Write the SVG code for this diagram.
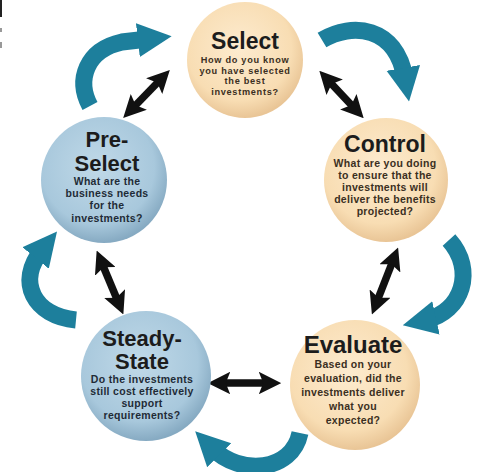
<svg xmlns="http://www.w3.org/2000/svg" width="478" height="472" viewBox="0 0 478 472">
<defs>
<radialGradient id="peach" cx="45%" cy="40%" r="60%">
<stop offset="0" stop-color="#fdebcf"/>
<stop offset="0.75" stop-color="#f8ddb3"/>
<stop offset="1" stop-color="#e9c596"/>
</radialGradient>
<radialGradient id="blue" cx="45%" cy="40%" r="60%">
<stop offset="0" stop-color="#c0d9e8"/>
<stop offset="0.75" stop-color="#a8c8dc"/>
<stop offset="1" stop-color="#86aac2"/>
</radialGradient>
<marker id="bh" viewBox="0 0 10 10" refX="5" refY="5" markerWidth="3" markerHeight="3" orient="auto-start-reverse" markerUnits="strokeWidth">
<path d="M0,0 L10,5 L0,10 L2,5 Z" fill="#111"/>
</marker>
<marker id="th" viewBox="0 0 10 10" refX="3" refY="5" markerWidth="2" markerHeight="2.2" orient="auto" markerUnits="strokeWidth">
<path d="M0,0 L10,5 L0,10 Z" fill="#1d7f9c"/>
</marker>
<style>
.title{font-family:"Liberation Sans",Arial,sans-serif;font-weight:bold;fill:#1c1c1c;text-anchor:middle}
.body{font-family:"Liberation Sans",Arial,sans-serif;font-weight:bold;font-size:10.5px;letter-spacing:0.3px;text-anchor:middle}
.sm{font-size:9.2px;letter-spacing:0.7px}
.pb{fill:#3b2f22}
.bb{fill:#1f2b36}
.dbl{stroke:#111;stroke-width:7.5;fill:none;marker-start:url(#bh);marker-end:url(#bh)}
.cyc{stroke:#1d7f9c;stroke-width:17;fill:none;marker-end:url(#th)}
</style>
</defs>
<rect width="478" height="472" fill="#ffffff"/>
<rect x="0" y="0" width="2" height="17" fill="#222"/>
<rect x="0" y="28" width="2" height="4" fill="#999"/>
<rect x="0" y="42" width="2" height="6" fill="#999"/>

<g id="connectors">
<path class="cyc" d="M90 106 C76 80 86 50 122 42 L148 39"/>
<path class="cyc" d="M322 40 C352 22 396 26 405 78"/>
<path class="cyc" d="M449 240 C476 270 462 312 426 320"/>
<path class="cyc" d="M300 433 C292 472 240 476 212 448"/>
<path class="cyc" d="M76 320 C34 316 16 282 42 250"/>
<line class="dbl" x1="162" y1="78" x2="131" y2="110"/>
<line class="dbl" x1="327" y1="79" x2="356" y2="110"/>
<line class="dbl" x1="101" y1="261" x2="119" y2="304"/>
<line class="dbl" x1="219" y1="383" x2="270" y2="383"/>
<line class="dbl" x1="394" y1="258" x2="376" y2="304"/>
</g>

<g id="select">
<circle cx="245" cy="60" r="58" fill="url(#peach)"/>
<text class="title" x="245" y="49" font-size="23">Select</text>
<text class="body sm pb" x="245" y="63">How do you know</text>
<text class="body sm pb" x="245" y="73.5">you have selected</text>
<text class="body sm pb" x="245" y="84">the best</text>
<text class="body sm pb" x="245" y="94.5">investments?</text>
</g>

<g id="control">
<circle cx="386" cy="180" r="62" fill="url(#peach)"/>
<text class="title" x="385" y="152" font-size="23">Control</text>
<text class="body pb" x="385" y="167">What are you doing</text>
<text class="body pb" x="385" y="179">to ensure that the</text>
<text class="body pb" x="385" y="191">investments will</text>
<text class="body pb" x="385" y="203">deliver the benefits</text>
<text class="body pb" x="385" y="215">projected?</text>
</g>

<g id="preselect">
<circle cx="104" cy="180" r="63" fill="url(#blue)"/>
<text class="title" x="107" y="147" font-size="22">Pre-</text>
<text class="title" x="107" y="171" font-size="22">Select</text>
<text class="body bb" x="107" y="185">What are the</text>
<text class="body bb" x="107" y="197">business needs</text>
<text class="body bb" x="107" y="209">for the</text>
<text class="body bb" x="107" y="222">investments?</text>
</g>

<g id="steadystate">
<circle cx="146" cy="376" r="65" fill="url(#blue)"/>
<text class="title" x="142" y="346" font-size="22">Steady-</text>
<text class="title" x="142" y="369" font-size="22">State</text>
<text class="body bb" x="142" y="383">Do the investments</text>
<text class="body bb" x="142" y="395">still cost effectively</text>
<text class="body bb" x="142" y="407">support</text>
<text class="body bb" x="142" y="419">requirements?</text>
</g>

<g id="evaluate">
<circle cx="355" cy="385" r="65" fill="url(#peach)"/>
<text class="title" x="353" y="353" font-size="24">Evaluate</text>
<text class="body pb" x="353" y="368">Based on your</text>
<text class="body pb" x="353" y="382">evaluation, did the</text>
<text class="body pb" x="353" y="396">investments deliver</text>
<text class="body pb" x="353" y="410">what you</text>
<text class="body pb" x="353" y="424">expected?</text>
</g>
</svg>
